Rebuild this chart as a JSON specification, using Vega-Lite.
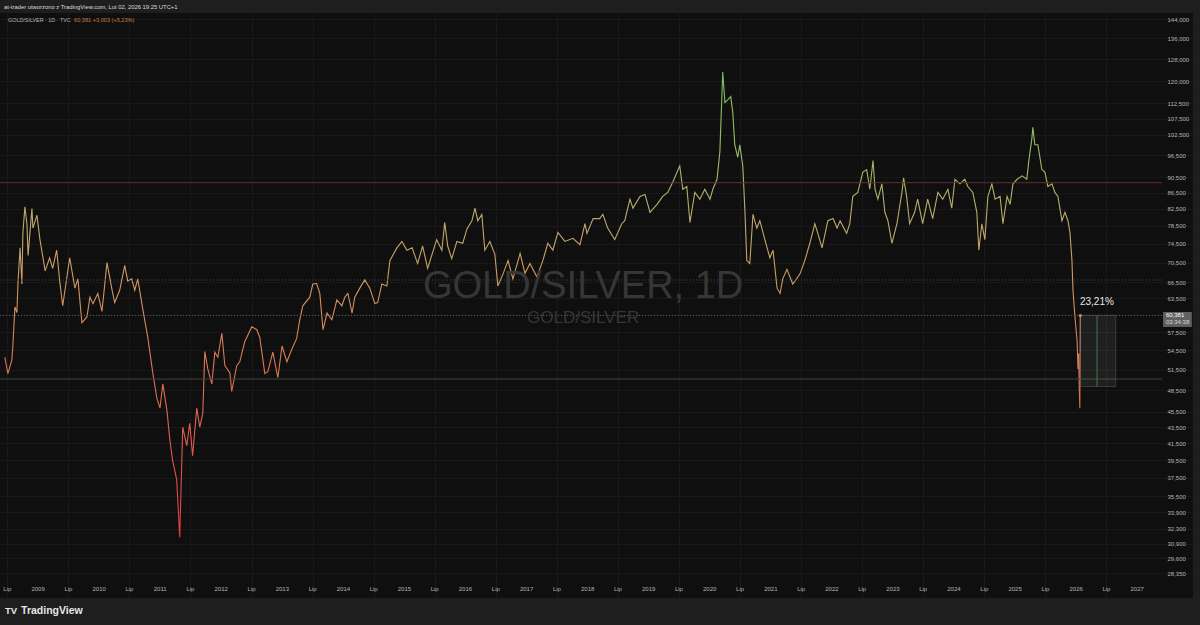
{
  "$schema": "https://vega.github.io/schema/vega-lite/v6.json",
  "width": 1193,
  "height": 585,
  "autosize": {"type": "none"},
  "padding": {"left": 0, "top": 13, "right": 7, "bottom": 27},
  "background": "#1e1e1e",
  "config": {
    "view": {"fill": "#0f0f0f", "stroke": null},
    "font": "Liberation Sans",
    "text": {"font": "Liberation Sans"}
  },
  "data": {"values": [
    {"d":"2008-06-16","v":53.4},{"d":"2008-07-04","v":50.9},{"d":"2008-07-28","v":53.0},{"d":"2008-08-03","v":55.2},{"d":"2008-08-15","v":61.9},{"d":"2008-08-27","v":60.9},{"d":"2008-09-03","v":66.8},{"d":"2008-09-15","v":73.6},{"d":"2008-09-26","v":66.2},{"d":"2008-10-02","v":77.0},{"d":"2008-10-14","v":83.0},{"d":"2008-10-26","v":79.0},{"d":"2008-11-02","v":72.0},{"d":"2008-11-25","v":82.6},{"d":"2008-12-01","v":78.0},{"d":"2008-12-25","v":81.0},
    {"d":"2009-01-12","v":75.4},{"d":"2009-02-12","v":68.8},{"d":"2009-03-11","v":71.5},{"d":"2009-03-29","v":69.3},{"d":"2009-04-22","v":73.1},{"d":"2009-05-10","v":66.8},{"d":"2009-05-28","v":62.1},{"d":"2009-07-09","v":71.5},{"d":"2009-08-09","v":65.4},{"d":"2009-08-27","v":67.2},{"d":"2009-09-20","v":59.1},{"d":"2009-10-20","v":60.1},{"d":"2009-11-07","v":63.7},{"d":"2009-11-25","v":62.5},{"d":"2009-12-24","v":64.4},
    {"d":"2010-01-18","v":61.1},{"d":"2010-02-17","v":70.5},{"d":"2010-03-17","v":65.4},{"d":"2010-04-04","v":62.7},{"d":"2010-05-04","v":65.0},{"d":"2010-06-03","v":69.9},{"d":"2010-06-21","v":66.8},{"d":"2010-07-15","v":67.2},{"d":"2010-08-02","v":65.0},{"d":"2010-08-20","v":67.2},{"d":"2010-09-19","v":61.5},{"d":"2010-10-19","v":56.6},{"d":"2010-11-18","v":51.0},{"d":"2010-12-12","v":47.4},{"d":"2010-12-31","v":46.0},
    {"d":"2011-01-17","v":49.4},{"d":"2011-02-11","v":45.6},{"d":"2011-02-28","v":41.9},{"d":"2011-03-16","v":39.5},{"d":"2011-04-10","v":37.3},{"d":"2011-04-28","v":31.5},{"d":"2011-05-10","v":39.1},{"d":"2011-05-16","v":43.5},{"d":"2011-06-09","v":41.2},{"d":"2011-06-27","v":44.0},{"d":"2011-07-14","v":40.0},{"d":"2011-08-08","v":46.0},{"d":"2011-08-26","v":43.5},{"d":"2011-09-13","v":45.3},{"d":"2011-09-25","v":54.3},{"d":"2011-10-13","v":51.6},{"d":"2011-11-06","v":49.4},{"d":"2011-11-24","v":54.2},{"d":"2011-12-12","v":53.4},
    {"d":"2012-01-05","v":57.3},{"d":"2012-01-23","v":52.1},{"d":"2012-02-22","v":51.0},{"d":"2012-03-04","v":48.3},{"d":"2012-04-03","v":52.1},{"d":"2012-04-21","v":52.7},{"d":"2012-05-21","v":55.9},{"d":"2012-07-02","v":58.4},{"d":"2012-08-01","v":57.9},{"d":"2012-08-19","v":56.6},{"d":"2012-09-18","v":50.9},{"d":"2012-10-06","v":51.2},{"d":"2012-11-05","v":54.2},{"d":"2012-12-05","v":50.3},{"d":"2012-12-30","v":55.2},
    {"d":"2013-01-28","v":52.7},{"d":"2013-02-27","v":54.7},{"d":"2013-03-27","v":56.4},{"d":"2013-04-15","v":59.6},{"d":"2013-05-03","v":62.1},{"d":"2013-06-14","v":63.7},{"d":"2013-07-02","v":66.2},{"d":"2013-07-25","v":66.3},{"d":"2013-08-13","v":64.4},{"d":"2013-09-01","v":57.9},{"d":"2013-09-25","v":60.8},{"d":"2013-10-24","v":59.6},{"d":"2013-11-23","v":63.2},{"d":"2013-12-23","v":62.1},
    {"d":"2014-01-10","v":63.7},{"d":"2014-01-28","v":64.4},{"d":"2014-02-22","v":60.8},{"d":"2014-03-10","v":63.7},{"d":"2014-04-09","v":65.4},{"d":"2014-05-09","v":67.0},{"d":"2014-06-08","v":65.4},{"d":"2014-07-08","v":62.5},{"d":"2014-07-25","v":62.7},{"d":"2014-08-19","v":66.2},{"d":"2014-09-18","v":65.8},{"d":"2014-10-06","v":70.9},{"d":"2014-11-17","v":73.6},{"d":"2014-12-17","v":75.0},
    {"d":"2015-01-16","v":73.1},{"d":"2015-02-16","v":73.6},{"d":"2015-03-21","v":70.3},{"d":"2015-04-20","v":74.0},{"d":"2015-05-20","v":69.3},{"d":"2015-07-13","v":75.4},{"d":"2015-08-13","v":73.1},{"d":"2015-08-30","v":79.3},{"d":"2015-09-17","v":74.0},{"d":"2015-10-11","v":71.3},{"d":"2015-11-11","v":75.0},{"d":"2015-12-16","v":74.6},
    {"d":"2016-01-10","v":77.8},{"d":"2016-02-09","v":79.7},{"d":"2016-02-27","v":82.7},{"d":"2016-03-15","v":79.7},{"d":"2016-04-08","v":81.2},{"d":"2016-04-26","v":73.1},{"d":"2016-05-26","v":75.0},{"d":"2016-06-25","v":72.2},{"d":"2016-07-13","v":65.8},{"d":"2016-08-12","v":68.1},{"d":"2016-09-12","v":70.9},{"d":"2016-10-11","v":67.2},{"d":"2016-11-23","v":72.4},{"d":"2016-12-22","v":68.3},
    {"d":"2017-01-21","v":70.3},{"d":"2017-03-03","v":67.6},{"d":"2017-04-08","v":70.9},{"d":"2017-05-08","v":74.6},{"d":"2017-06-07","v":73.1},{"d":"2017-07-07","v":77.0},{"d":"2017-08-18","v":75.0},{"d":"2017-10-05","v":75.7},{"d":"2017-11-16","v":74.3},{"d":"2017-12-16","v":79.0},{"d":"2017-12-28","v":76.8},
    {"d":"2018-02-03","v":80.2},{"d":"2018-03-14","v":80.2},{"d":"2018-04-02","v":81.2},{"d":"2018-05-01","v":78.0},{"d":"2018-06-12","v":75.4},{"d":"2018-07-24","v":79.0},{"d":"2018-08-11","v":79.7},{"d":"2018-09-11","v":84.9},{"d":"2018-09-29","v":82.7},{"d":"2018-11-10","v":85.6},{"d":"2018-12-10","v":86.1},
    {"d":"2019-01-09","v":81.7},{"d":"2019-02-20","v":83.6},{"d":"2019-03-26","v":85.6},{"d":"2019-04-25","v":86.6},{"d":"2019-05-25","v":89.2},{"d":"2019-07-06","v":93.6},{"d":"2019-07-24","v":87.4},{"d":"2019-08-17","v":88.1},{"d":"2019-09-05","v":79.3},{"d":"2019-10-04","v":86.6},{"d":"2019-11-03","v":84.9},{"d":"2019-12-03","v":87.4},
    {"d":"2020-01-03","v":84.9},{"d":"2020-01-20","v":87.4},{"d":"2020-02-14","v":90.0},{"d":"2020-03-02","v":97.6},{"d":"2020-03-19","v":123.3},{"d":"2020-04-01","v":112.7},{"d":"2020-04-19","v":113.7},{"d":"2020-05-06","v":114.7},{"d":"2020-05-18","v":109.6},{"d":"2020-05-30","v":99.6},{"d":"2020-06-17","v":96.0},{"d":"2020-06-29","v":99.6},{"d":"2020-07-17","v":93.6},{"d":"2020-07-29","v":82.7},{"d":"2020-08-10","v":70.9},{"d":"2020-08-28","v":70.3},{"d":"2020-09-16","v":81.2},{"d":"2020-10-09","v":78.0},{"d":"2020-10-27","v":79.7},{"d":"2020-11-26","v":75.4},{"d":"2020-12-26","v":71.5},
    {"d":"2021-01-14","v":73.1},{"d":"2021-02-07","v":65.4},{"d":"2021-02-25","v":64.4},{"d":"2021-03-13","v":67.2},{"d":"2021-04-07","v":69.1},{"d":"2021-05-12","v":66.2},{"d":"2021-06-23","v":68.1},{"d":"2021-07-23","v":70.9},{"d":"2021-08-22","v":74.6},{"d":"2021-09-21","v":79.0},{"d":"2021-10-09","v":76.8},{"d":"2021-11-03","v":73.6},{"d":"2021-12-08","v":79.7},
    {"d":"2022-01-08","v":80.2},{"d":"2022-02-01","v":78.0},{"d":"2022-02-19","v":79.7},{"d":"2022-03-30","v":76.8},{"d":"2022-04-18","v":79.0},{"d":"2022-05-06","v":85.6},{"d":"2022-06-05","v":86.6},{"d":"2022-07-05","v":91.9},{"d":"2022-07-28","v":92.6},{"d":"2022-08-16","v":87.4},{"d":"2022-09-04","v":95.1},{"d":"2022-09-16","v":87.4},{"d":"2022-10-03","v":84.9},{"d":"2022-10-27","v":88.8},{"d":"2022-11-14","v":81.7},{"d":"2022-12-02","v":79.7},{"d":"2022-12-26","v":74.6},
    {"d":"2023-01-25","v":79.0},{"d":"2023-02-24","v":86.6},{"d":"2023-03-06","v":90.4},{"d":"2023-03-24","v":85.6},{"d":"2023-04-11","v":79.0},{"d":"2023-05-11","v":81.7},{"d":"2023-05-29","v":84.9},{"d":"2023-06-28","v":79.0},{"d":"2023-07-28","v":84.9},{"d":"2023-08-27","v":80.2},{"d":"2023-09-27","v":86.6},{"d":"2023-10-26","v":84.9},{"d":"2023-11-26","v":87.4},{"d":"2023-12-19","v":82.7},
    {"d":"2024-01-07","v":90.0},{"d":"2024-02-06","v":88.8},{"d":"2024-03-06","v":90.0},{"d":"2024-03-24","v":88.1},{"d":"2024-04-23","v":86.6},{"d":"2024-05-17","v":81.7},{"d":"2024-05-29","v":73.1},{"d":"2024-06-16","v":79.0},{"d":"2024-07-04","v":75.4},{"d":"2024-07-22","v":85.6},{"d":"2024-08-15","v":88.8},{"d":"2024-09-03","v":84.9},{"d":"2024-10-03","v":85.6},{"d":"2024-10-20","v":79.0},{"d":"2024-11-14","v":85.6},{"d":"2024-12-02","v":83.6},{"d":"2024-12-19","v":88.8},
    {"d":"2025-01-13","v":90.0},{"d":"2025-02-12","v":90.9},{"d":"2025-03-12","v":90.0},{"d":"2025-03-24","v":95.1},{"d":"2025-04-11","v":101.3},{"d":"2025-04-17","v":104.8},{"d":"2025-04-29","v":99.6},{"d":"2025-05-17","v":99.6},{"d":"2025-06-10","v":92.6},{"d":"2025-06-28","v":91.9},{"d":"2025-07-16","v":88.1},{"d":"2025-08-09","v":88.8},{"d":"2025-08-27","v":86.6},{"d":"2025-09-14","v":85.6},{"d":"2025-10-08","v":79.7},{"d":"2025-10-26","v":81.7},{"d":"2025-11-13","v":79.7},{"d":"2025-11-25","v":77.0},{"d":"2025-12-07","v":70.9},{"d":"2025-12-13","v":65.0},{"d":"2025-12-25","v":60.1},
    {"d":"2026-01-07","v":55.9},{"d":"2026-01-12","v":51.6},{"d":"2026-01-16","v":54.0},{"d":"2026-01-19","v":49.5},{"d":"2026-01-23","v":46.0},{"d":"2026-01-26","v":60.381}
  ]},
  "layer": [
    {
      "mark": {
        "type": "line",
        "strokeWidth": 1.1,
        "color": {
          "gradient": "linear", "x1": 0, "y1": 0, "x2": 0, "y2": 1,
          "stops": [
            {"offset": 0, "color": "#78c25a"},
            {"offset": 0.154, "color": "#9cba62"},
            {"offset": 0.247, "color": "#aab26a"},
            {"offset": 0.335, "color": "#bfa86c"},
            {"offset": 0.436, "color": "#cc9a62"},
            {"offset": 0.528, "color": "#d48a5c"},
            {"offset": 0.661, "color": "#db7154"},
            {"offset": 0.825, "color": "#e0564a"},
            {"offset": 1, "color": "#e43c3c"}
          ]
        }
      },
      "encoding": {
        "x": {
          "field": "d", "type": "temporal",
          "scale": {"domain": [{"year": 2008, "month": 5, "date": 18}, {"year": 2027, "month": 12, "date": 1}]},
          "axis": {
            "orient": "bottom", "offset": -18, "title": null, "domain": false, "ticks": false, "labels": false,
            "grid": true, "gridColor": "#191919", "gridWidth": 1,
            "values": [
              {"year": 2008, "month": 7, "date": 1},
              {"year": 2009, "month": 1, "date": 1}, {"year": 2009, "month": 7, "date": 1},
              {"year": 2010, "month": 1, "date": 1}, {"year": 2010, "month": 7, "date": 1},
              {"year": 2011, "month": 1, "date": 1}, {"year": 2011, "month": 7, "date": 1},
              {"year": 2012, "month": 1, "date": 1}, {"year": 2012, "month": 7, "date": 1},
              {"year": 2013, "month": 1, "date": 1}, {"year": 2013, "month": 7, "date": 1},
              {"year": 2014, "month": 1, "date": 1}, {"year": 2014, "month": 7, "date": 1},
              {"year": 2015, "month": 1, "date": 1}, {"year": 2015, "month": 7, "date": 1},
              {"year": 2016, "month": 1, "date": 1}, {"year": 2016, "month": 7, "date": 1},
              {"year": 2017, "month": 1, "date": 1}, {"year": 2017, "month": 7, "date": 1},
              {"year": 2018, "month": 1, "date": 1}, {"year": 2018, "month": 7, "date": 1},
              {"year": 2019, "month": 1, "date": 1}, {"year": 2019, "month": 7, "date": 1},
              {"year": 2020, "month": 1, "date": 1}, {"year": 2020, "month": 7, "date": 1},
              {"year": 2021, "month": 1, "date": 1}, {"year": 2021, "month": 7, "date": 1},
              {"year": 2022, "month": 1, "date": 1}, {"year": 2022, "month": 7, "date": 1},
              {"year": 2023, "month": 1, "date": 1}, {"year": 2023, "month": 7, "date": 1},
              {"year": 2024, "month": 1, "date": 1}, {"year": 2024, "month": 7, "date": 1},
              {"year": 2025, "month": 1, "date": 1}, {"year": 2025, "month": 7, "date": 1},
              {"year": 2026, "month": 1, "date": 1}, {"year": 2026, "month": 7, "date": 1},
              {"year": 2027, "month": 1, "date": 1}
            ]
          }
        },
        "y": {
          "field": "v", "type": "quantitative",
          "scale": {"type": "log", "domain": [26.36, 146.56], "nice": false, "zero": false},
          "axis": {
            "orient": "right", "offset": -31, "title": null, "domain": false, "ticks": false,
            "labelPadding": 5, "labelFontSize": 6, "labelColor": "#b4b4b4", "labelFont": "Liberation Sans",
            "labelAlign": "left", "labelOverlap": false, "labelFlush": false,
            "grid": true, "gridColor": "#191919", "gridWidth": 1,
            "values": [28.35, 29.6, 30.9, 32.3, 33.9, 35.5, 37.5, 39.5, 41.5, 43.5, 45.5, 48.5, 51.5, 54.5, 57.5, 60.5, 63.5, 66.5, 70.5, 74.5, 78.5, 82.5, 86.5, 90.5, 96.5, 102.5, 107.5, 112.5, 120, 128, 136, 144],
            "labelExpr": "datum.value == 60.5 ? '' : replace(format(datum.value, '.3f'), '.', ',')"
          }
        }
      }
    },
    {
      "data": {"values": [
        {"t":"2008-07-01","lab":"Lip"},{"t":"2009-01-01","lab":"2009"},{"t":"2009-07-01","lab":"Lip"},{"t":"2010-01-01","lab":"2010"},{"t":"2010-07-01","lab":"Lip"},
        {"t":"2011-01-01","lab":"2011"},{"t":"2011-07-01","lab":"Lip"},{"t":"2012-01-01","lab":"2012"},{"t":"2012-07-01","lab":"Lip"},{"t":"2013-01-01","lab":"2013"},
        {"t":"2013-07-01","lab":"Lip"},{"t":"2014-01-01","lab":"2014"},{"t":"2014-07-01","lab":"Lip"},{"t":"2015-01-01","lab":"2015"},{"t":"2015-07-01","lab":"Lip"},
        {"t":"2016-01-01","lab":"2016"},{"t":"2016-07-01","lab":"Lip"},{"t":"2017-01-01","lab":"2017"},{"t":"2017-07-01","lab":"Lip"},{"t":"2018-01-01","lab":"2018"},
        {"t":"2018-07-01","lab":"Lip"},{"t":"2019-01-01","lab":"2019"},{"t":"2019-07-01","lab":"Lip"},{"t":"2020-01-01","lab":"2020"},{"t":"2020-07-01","lab":"Lip"},
        {"t":"2021-01-01","lab":"2021"},{"t":"2021-07-01","lab":"Lip"},{"t":"2022-01-01","lab":"2022"},{"t":"2022-07-01","lab":"Lip"},{"t":"2023-01-01","lab":"2023"},
        {"t":"2023-07-01","lab":"Lip"},{"t":"2024-01-01","lab":"2024"},{"t":"2024-07-01","lab":"Lip"},{"t":"2025-01-01","lab":"2025"},{"t":"2025-07-01","lab":"Lip"},
        {"t":"2026-01-01","lab":"2026"},{"t":"2026-07-01","lab":"Lip"},{"t":"2027-01-01","lab":"2027"}
      ]},
      "mark": {"type": "text", "fontSize": 6, "color": "#b4b4b4", "align": "center", "baseline": "middle"},
      "encoding": {
        "x": {"field": "t", "type": "temporal"},
        "y": {"datum": 27.07, "type": "quantitative"},
        "text": {"field": "lab", "type": "nominal"}
      }
    },
    {
      "data": {"values": [{}]},
      "mark": {"type": "rule", "color": "#6e2a2a", "strokeWidth": 1},
      "encoding": {
        "x": {"datum": {"year": 2008, "month": 5, "date": 18}, "type": "temporal"},
        "x2": {"datum": {"year": 2027, "month": 5, "date": 30}},
        "y": {"datum": 89.1, "type": "quantitative"}
      }
    },
    {
      "data": {"values": [{}]},
      "mark": {"type": "rule", "color": "#4a4a4a", "strokeWidth": 1, "strokeDash": [1, 2]},
      "encoding": {
        "x": {"datum": {"year": 2008, "month": 5, "date": 18}, "type": "temporal"},
        "x2": {"datum": {"year": 2027, "month": 5, "date": 30}},
        "y": {"datum": 66.98, "type": "quantitative"}
      }
    },
    {
      "data": {"values": [{}]},
      "mark": {"type": "rule", "color": "#3c463b", "strokeWidth": 1},
      "encoding": {
        "x": {"datum": {"year": 2008, "month": 5, "date": 18}, "type": "temporal"},
        "x2": {"datum": {"year": 2027, "month": 5, "date": 30}},
        "y": {"datum": 50.1, "type": "quantitative"}
      }
    },
    {
      "data": {"values": [{}]},
      "mark": {"type": "rule", "color": "#5e5e5e", "strokeWidth": 1, "strokeDash": [1, 2]},
      "encoding": {
        "x": {"datum": {"year": 2008, "month": 5, "date": 18}, "type": "temporal"},
        "x2": {"datum": {"year": 2027, "month": 5, "date": 30}},
        "y": {"datum": 60.381, "type": "quantitative"}
      }
    },
    {
      "data": {"values": [{}]},
      "mark": {"type": "text", "text": "GOLD/SILVER, 1D", "fontSize": 38, "color": "#363636", "align": "center", "baseline": "middle"},
      "encoding": {
        "x": {"datum": {"year": 2017, "month": 12, "date": 5}, "type": "temporal"},
        "y": {"datum": 65.6, "type": "quantitative"}
      }
    },
    {
      "data": {"values": [{}]},
      "mark": {"type": "text", "text": "GOLD/SILVER", "fontSize": 17, "color": "#363636", "align": "center", "baseline": "middle"},
      "encoding": {
        "x": {"datum": {"year": 2017, "month": 12, "date": 5}, "type": "temporal"},
        "y": {"datum": 59.9, "type": "quantitative"}
      }
    },
    {
      "data": {"values": [{}]},
      "mark": {"type": "rect", "fill": "#ffffff", "fillOpacity": 0.07, "stroke": "#5a5a5a", "strokeOpacity": 0.7, "strokeWidth": 0.8},
      "encoding": {
        "x": {"datum": {"year": 2026, "month": 1, "date": 24}, "type": "temporal"},
        "x2": {"datum": {"year": 2026, "month": 8, "date": 26}},
        "y": {"datum": 60.381, "type": "quantitative"},
        "y2": {"datum": 49.007}
      }
    },
    {
      "data": {"values": [{}]},
      "mark": {"type": "rule", "color": "#3f7a4f", "strokeWidth": 1},
      "encoding": {
        "x": {"datum": {"year": 2026, "month": 5, "date": 6}, "type": "temporal"},
        "y": {"datum": 60.381, "type": "quantitative"},
        "y2": {"datum": 49.007}
      }
    },
    {
      "data": {"values": [{}]},
      "mark": {"type": "circle", "size": 9, "color": "#d49060", "opacity": 1},
      "encoding": {
        "x": {"datum": {"year": 2026, "month": 1, "date": 26}, "type": "temporal"},
        "y": {"datum": 60.381, "type": "quantitative"}
      }
    },
    {
      "data": {"values": [{}]},
      "mark": {"type": "text", "text": "23,21%", "fontSize": 10, "color": "#e6e6e6", "align": "center", "baseline": "middle"},
      "encoding": {
        "x": {"datum": {"year": 2026, "month": 5, "date": 5}, "type": "temporal"},
        "y": {"datum": 62.8, "type": "quantitative"}
      }
    },
    {
      "data": {"values": [{}]},
      "mark": {"type": "rect", "color": "#616161"},
      "encoding": {
        "x": {"datum": {"year": 2027, "month": 6, "date": 5}, "type": "temporal"},
        "x2": {"datum": {"year": 2027, "month": 11, "date": 24}},
        "y": {"datum": 60.99, "type": "quantitative"},
        "y2": {"datum": 58.37}
      }
    },
    {
      "data": {"values": [{}]},
      "mark": {"type": "text", "text": "60,381", "fontSize": 6, "color": "#ffffff", "align": "left", "baseline": "middle"},
      "encoding": {
        "x": {"datum": {"year": 2027, "month": 6, "date": 22}, "type": "temporal"},
        "y": {"datum": 60.45, "type": "quantitative"}
      }
    },
    {
      "data": {"values": [{}]},
      "mark": {"type": "text", "text": "03:34:38", "fontSize": 6, "color": "#d6d6d6", "align": "left", "baseline": "middle"},
      "encoding": {
        "x": {"datum": {"year": 2027, "month": 6, "date": 22}, "type": "temporal"},
        "y": {"datum": 59.14, "type": "quantitative"}
      }
    },
    {
      "data": {"values": [{}]},
      "mark": {"type": "text", "text": "at-trader utworzono z TradingView.com, Lut 02, 2026 19:25 UTC+1", "fontSize": 5.85, "color": "#dcdcdc", "align": "left", "baseline": "middle"},
      "encoding": {
        "x": {"datum": {"year": 2008, "month": 6, "date": 11}, "type": "temporal"},
        "y": {"datum": 149.2, "type": "quantitative"}
      }
    },
    {
      "data": {"values": [{}]},
      "mark": {"type": "text", "text": "GOLD/SILVER · 1D · TVC", "fontSize": 5.4, "color": "#b8b8b8", "align": "left", "baseline": "middle"},
      "encoding": {
        "x": {"datum": {"year": 2008, "month": 7, "date": 5}, "type": "temporal"},
        "y": {"datum": 143.58, "type": "quantitative"}
      }
    },
    {
      "data": {"values": [{}]},
      "mark": {"type": "text", "text": "60,381  +3,003 (+5,23%)", "fontSize": 5.6, "color": "#cf7a50", "align": "left", "baseline": "middle"},
      "encoding": {
        "x": {"datum": {"year": 2009, "month": 8, "date": 4}, "type": "temporal"},
        "y": {"datum": 143.58, "type": "quantitative"}
      }
    },
    {
      "data": {"values": [{}]},
      "mark": {"type": "text", "text": "TV", "fontSize": 9.5, "fontWeight": "bold", "color": "#e6e6e6", "align": "left", "baseline": "middle"},
      "encoding": {
        "x": {"datum": {"year": 2008, "month": 6, "date": 17}, "type": "temporal"},
        "y": {"datum": 25.38, "type": "quantitative"}
      }
    },
    {
      "data": {"values": [{}]},
      "mark": {"type": "text", "text": "TradingView", "fontSize": 10.5, "fontWeight": "bold", "color": "#e6e6e6", "align": "left", "baseline": "middle"},
      "encoding": {
        "x": {"datum": {"year": 2008, "month": 9, "date": 21}, "type": "temporal"},
        "y": {"datum": 25.38, "type": "quantitative"}
      }
    }
  ]
}
